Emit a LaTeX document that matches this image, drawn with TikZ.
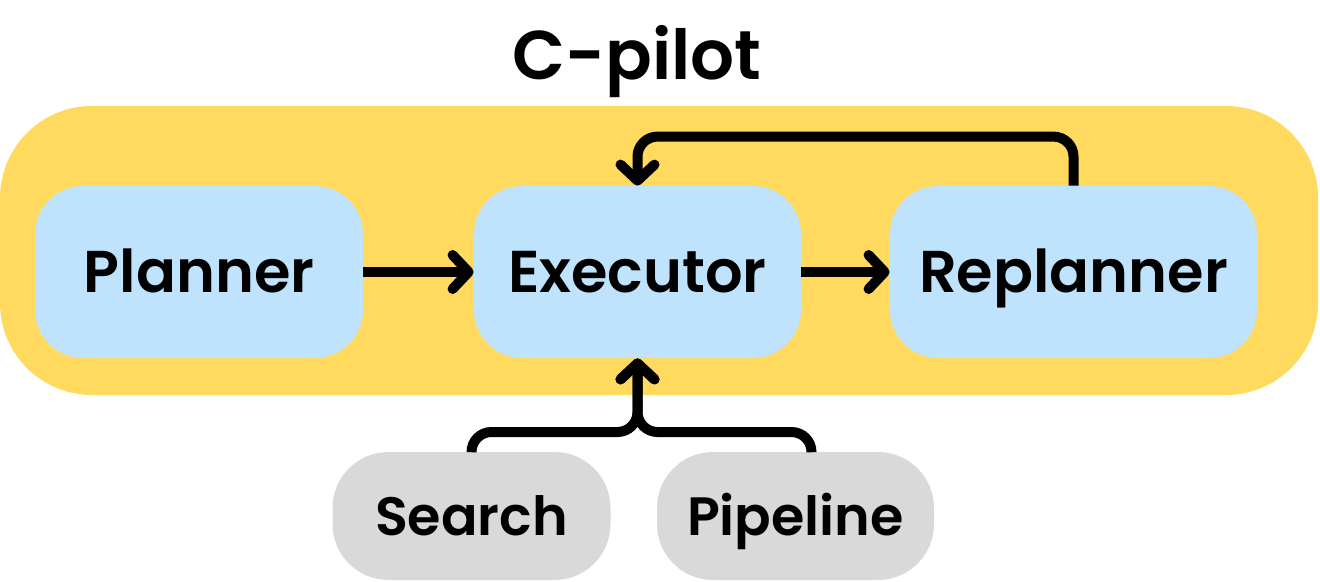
\documentclass[tikz,border=0pt]{standalone}
\usepackage{fontspec}
\setmainfont{Poppins}[BoldFont={Poppins SemiBold}]
\usetikzlibrary{positioning,arrows.meta}
\definecolor{pilotyellow}{RGB}{255,218,94}
\definecolor{agentblue}{RGB}{191,227,252}
\definecolor{toolgray}{RGB}{217,217,217}

\begin{document}
\begin{tikzpicture}[
    x=0.5pt, y=-0.5pt,
    container/.style={rectangle, fill=pilotyellow, rounded corners=46pt, minimum width=659pt, minimum height=144.5pt, inner sep=0pt},
    agent/.style={rectangle, fill=agentblue, rounded corners=24pt, minimum height=86pt, inner sep=0pt, text height=20.5pt, text depth=0pt, font=\fontsize{29.5}{35}\selectfont\bfseries},
    tool/.style={rectangle, fill=toolgray, rounded corners=28pt, minimum width=139pt, minimum height=64pt, inner sep=0pt, text height=19pt, text depth=0pt, font=\fontsize{27}{33}\selectfont\bfseries},
    flow/.style={line width=5pt, rounded corners=10pt, -{Straight Barb[length=8pt, width=17pt, round]}}
]
\useasboundingbox (0,0) rectangle (1320,582);

\node[container] (cpilot) at (659,250.5) {};
\node[font=\fontsize{34.5}{40}\selectfont\bfseries] (title) at (637,62) {C-pilot};

\node[agent, minimum width=164pt] (planner) at (199,272) {Planner};
\node[agent, minimum width=163.5pt] (executor) at (637.5,272) {Executor};
\node[agent, minimum width=183.5pt] (replanner) at (1073.5,272) {Replanner};

\node[tool] (search) at (471.5,516) {Search};
\node[tool, minimum width=138.5pt] (pipeline) at (795.5,516) {Pipeline};

\coordinate (merge) at (637.5,432);

\draw[flow] (planner) -- (executor);
\draw[flow] (executor) -- (replanner);
\draw[flow] (replanner.north) -- ++(0,-49) -| (executor.north);
\draw[flow] (search.north) |- (merge) -- (executor.south);
\draw[flow] ([xshift=8pt]pipeline.north) |- (merge) -- (executor.south);

\end{tikzpicture}
\end{document}
